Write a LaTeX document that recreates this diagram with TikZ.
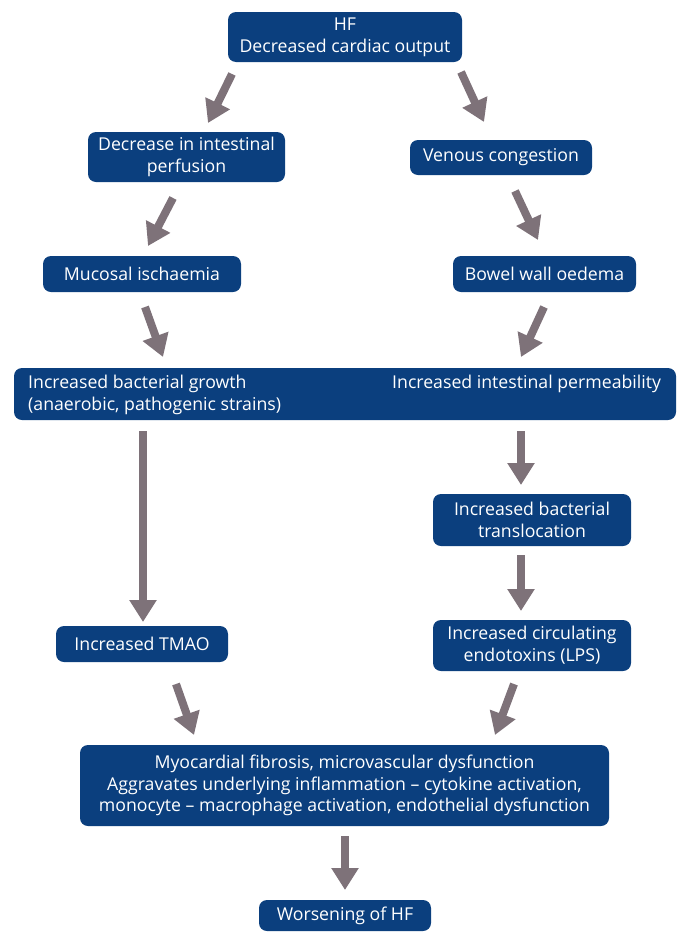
\documentclass[tikz,border=0pt]{standalone}
\usepackage{fontspec}
\setmainfont{Open Sans}
\usetikzlibrary{arrows.meta}
\definecolor{boxblue}{HTML}{0B3F7E}
\definecolor{arrgray}{HTML}{7E7279}
\tikzset{
  box/.style={fill=boxblue, rounded corners=8pt, text=white, align=center, inner sep=0pt,
    font=\fontsize{17.7pt}{22pt}\selectfont},
  txt/.style={text=white, inner sep=0pt, font=\fontsize{17.7pt}{22pt}\selectfont},
  bigarrow/.style={draw=arrgray, line width=8pt, -{Triangle[width=26pt,length=22pt]}, arrgray}
}
\begin{document}
\begin{tikzpicture}[x=1pt,y=-1pt]
\useasboundingbox (0,0) rectangle (684,932);
% boxes
\node[box, minimum width=234pt, minimum height=50pt] (hf) at (345,37) {HF\\Decreased cardiac output};
\node[box, minimum width=197pt, minimum height=50pt] (perf) at (186.5,157) {Decrease in intestinal\\perfusion};
\node[box, minimum width=182pt, minimum height=35pt] (ven) at (501,157.5) {Venous congestion};
\node[box, minimum width=198pt, minimum height=36pt] (muc) at (142,274) {Mucosal ischaemia};
\node[box, minimum width=183pt, minimum height=36pt] (bow) at (544.5,274) {Bowel wall oedema};
\node[box, minimum width=662pt, minimum height=52pt] (wide) at (345,394) {};
\node[txt, anchor=north west, align=left] (growth) at (28,375) {Increased bacterial growth\\(anaerobic, pathogenic strains)};
\node[txt, anchor=north west, align=left] (perm) at (392,375) {Increased intestinal permeability};
\node[box, minimum width=198pt, minimum height=52pt] (trans) at (532,520) {Increased bacterial\\translocation};
\node[box, minimum width=172pt, minimum height=36pt] (tmao) at (142,644) {Increased TMAO};
\node[box, minimum width=198pt, minimum height=51pt] (lps) at (532,645.5) {Increased circulating\\endotoxins (LPS)};
\node[box, minimum width=529pt, minimum height=81pt, font=\fontsize{17.7pt}{21.5pt}\selectfont] (fib) at (344.5,785.5) {Myocardial fibrosis, microvascular dysfunction\\Aggravates underlying inflammation -- cytokine activation,\\monocyte -- macrophage activation, endothelial dysfunction};
\node[box, minimum width=172pt, minimum height=31pt] (worse) at (345,915.5) {Worsening of HF};
% arrow coordinates
\coordinate (a1s) at (232,74); \coordinate (a1e) at (208,123);
\coordinate (a2s) at (461,72); \coordinate (a2e) at (484,122);
\coordinate (a3s) at (173,198); \coordinate (a3e) at (148,246);
\coordinate (a4s) at (515,191); \coordinate (a4e) at (538,240);
\coordinate (a5s) at (145,307); \coordinate (a5e) at (163,357);
\coordinate (a6s) at (544,307); \coordinate (a6e) at (521,357);
\coordinate (a7s) at (143,431); \coordinate (a7e) at (143,622);
\coordinate (a8s) at (521,431); \coordinate (a8e) at (521,485);
\coordinate (a9s) at (521,555); \coordinate (a9e) at (521,611);
\coordinate (a10s) at (176,684); \coordinate (a10e) at (194,735);
\coordinate (a11s) at (514,684); \coordinate (a11e) at (495,735);
\coordinate (a12s) at (345,836); \coordinate (a12e) at (345,890);
\foreach \i in {1,...,12} { \draw[bigarrow] (a\i s) -- (a\i e); }
\end{tikzpicture}
\end{document}
